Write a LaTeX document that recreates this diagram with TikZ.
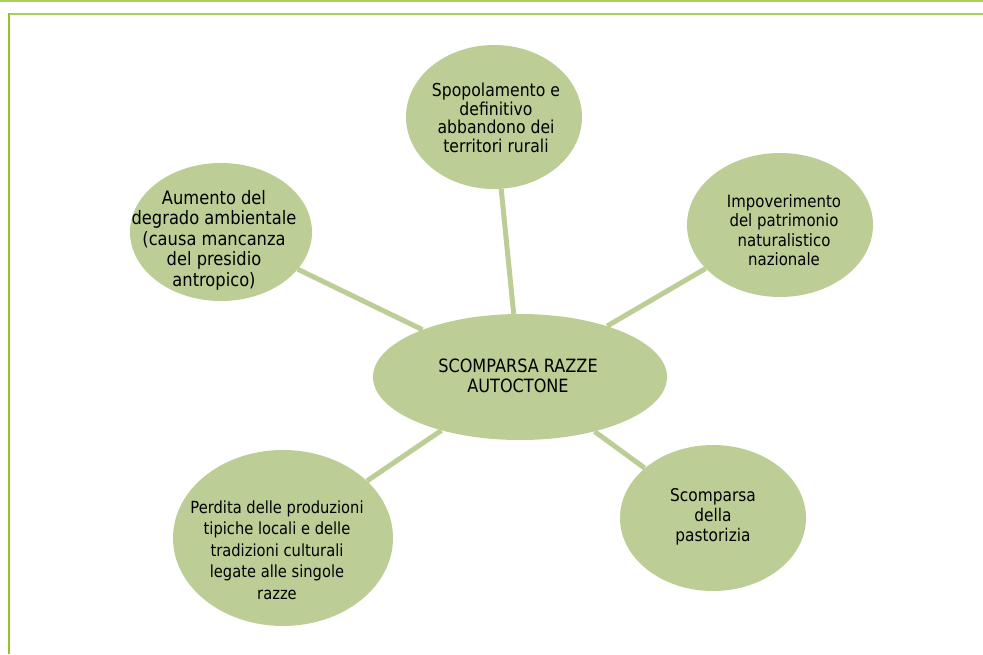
\documentclass[tikz,border=0pt]{standalone}
\usepackage{fontspec}
\setmainfont{DejaVu Sans}[FakeStretch=0.88]
\usetikzlibrary{shapes.geometric, positioning}

\definecolor{leaf}{RGB}{188,205,150}
\definecolor{frameline}{RGB}{170,208,90}
\definecolor{frameside}{RGB}{146,196,40}

\begin{document}
\begin{tikzpicture}[x=1pt, y=-1pt]
    \tikzstyle{bubble} = [ellipse, fill=leaf, draw=none, inner sep=0pt]
    \tikzstyle{words} = [align=center, inner sep=0pt, text=black]
    \tikzstyle{link} = [draw, leaf, line width=5pt]

    \useasboundingbox (0,0) rectangle (983,654);

    % Frame
    \draw [frameline, line width=1.5pt] (0,0.8) -- (983,0.8);
    \draw [frameline, line width=2pt] (8,14) -- (983,14);
    \draw [frameside, line width=2pt] (9,13) -- (9,654);

    % Bubbles
    \node [bubble, minimum width=294pt, minimum height=126pt] (razze) at (520,377) {};
    \node [bubble, minimum width=176pt, minimum height=144pt] (spopol) at (494,117) {};
    \node [bubble, minimum width=182pt, minimum height=138pt] (degrado) at (221,232) {};
    \node [bubble, minimum width=186pt, minimum height=144pt] (impover) at (780,225) {};
    \node [bubble, minimum width=186pt, minimum height=146pt] (pastor) at (713,518) {};
    \node [bubble, minimum width=220pt, minimum height=176pt] (perdita) at (283,538) {};

    % Connections
    \path [link] (razze) -- (spopol);
    \path [link] (razze) -- (degrado);
    \path [link] (razze) -- (impover);
    \path [link] (razze) -- (pastor);
    \path [link] (razze) -- (perdita);

    % Texts
    \node [words, font=\fontsize{18.3}{20}\selectfont] (razze-t) at (518,376) {SCOMPARSA RAZZE\\ AUTOCTONE};
    \node [words, font=\fontsize{17.8}{18.5}\selectfont] (spopol-t) at (496,118) {Spopolamento e\\ definitivo\\ abbandono dei\\ territori rurali};
    \node [words, font=\fontsize{18.5}{20.5}\selectfont] (degrado-t) at (214,240) {Aumento del\\ degrado ambientale\\ (causa mancanza\\ del presidio\\ antropico)};
    \node [words, font=\fontsize{17}{19.5}\selectfont] (impover-t) at (784,230) {Impoverimento\\ del patrimonio\\ naturalistico\\ nazionale};
    \node [words, font=\fontsize{17.5}{20}\selectfont] (pastor-t) at (713,517) {Scomparsa\\ della\\ pastorizia};
    \node [words, font=\fontsize{16.7}{21.5}\selectfont] (perdita-t) at (277,550) {Perdita delle produzioni\\ tipiche locali e delle\\ tradizioni culturali\\ legate alle singole\\ razze};
\end{tikzpicture}
\end{document}
